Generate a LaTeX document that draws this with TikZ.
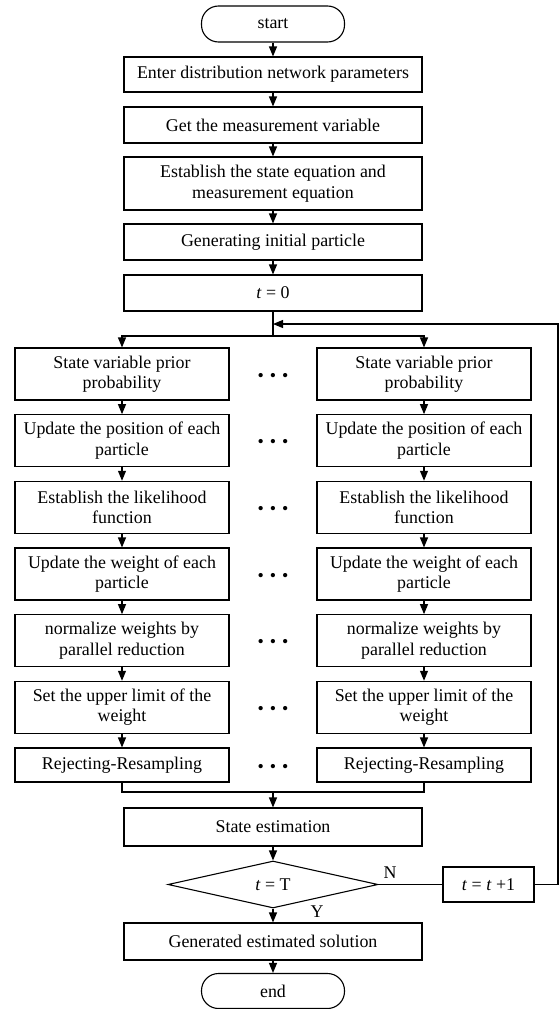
\documentclass[tikz,border=0pt]{standalone}
\usepackage{fontspec}
\setmainfont{Liberation Serif}
\usetikzlibrary{arrows.meta,shapes.geometric}

\begin{document}
\begin{tikzpicture}[x=1pt, y=-1pt, line width=1.1pt,
  >={Triangle[length=10pt, width=8pt]},
  every node/.style={font=\fontsize{17.9}{20.5}\selectfont},
  box/.style={draw, align=center, inner sep=1pt},
  wide/.style={box, minimum width=298pt, minimum height=36pt},
  par/.style={box, minimum width=214pt, minimum height=52pt},
  term/.style={box, minimum width=143pt, minimum height=36pt, rounded corners=17pt}]
\useasboundingbox (0,0) rectangle (559,1009);

\node[term] (start) at (273,24) {start};
\node[wide, minimum height=35pt] (enter) at (273,74.5) {Enter distribution network parameters};
\node[wide] (meas) at (273,125) {Get the measurement variable};
\node[wide, minimum height=53pt] (model) at (273,183.5) {Establish the state equation and\\measurement equation};
\node[wide] (init) at (273,242) {Generating initial particle};
\node[wide] (tzero) at (273,293) {\textit{t} = 0};
\coordinate (loop) at (273,324);
\coordinate (split) at (273,336);

% parallel particle columns
\foreach \c/\x in {L/122, R/424} {
  \node[par] (\c1) at (\x,374) {State variable prior\\probability};
  \node[par] (\c2) at (\x,440.7) {Update the position of each\\particle};
  \node[par] (\c3) at (\x,507.3) {Establish the likelihood\\function};
  \node[par] (\c4) at (\x,574) {Update the weight of each\\particle};
  \node[par] (\c5) at (\x,640.7) {normalize weights by\\parallel reduction};
  \node[par] (\c6) at (\x,707.3) {Set the upper limit of the\\weight};
  \node[par, minimum height=34pt] (\c7) at (\x,765) {Rejecting-Resampling};
  \foreach \i [count=\j from 2] in {1,...,6}
    \draw[->] (\c\i) -- (\c\j);
}
\foreach \y [count=\k] in {374,440.7,507.3,574,640.7,707.3,765}
  \node (dots\k) at (273,\y+3) {•\hspace{6pt}•\hspace{6pt}•};

\coordinate (merge) at (273,792);
\node[wide, minimum height=38pt] (est) at (273,827) {State estimation};
\node[draw, diamond, aspect=4.47, minimum width=210pt, minimum height=47pt, inner sep=0pt] (check) at (273,884.5) {\textit{t} = T};
\node[box, minimum width=91pt, minimum height=35pt] (next) at (488.5,884.5) {\textit{t} = \textit{t} +1};
\coordinate (rim) at (558,884.5);
\node[wide, minimum height=37pt] (result) at (273,941.5) {Generated estimated solution};
\node[term, minimum height=35pt] (stop) at (273,991) {end};
\node (yes) at (317,912) {Y};
\node (no) at (390,873) {N};

\draw[->] (start) -- (enter);
\draw[->] (enter) -- (meas);
\draw[->] (meas) -- (model);
\draw[->] (model) -- (init);
\draw[->] (init) -- (tzero);
\draw (tzero) -- (split);
\draw[->] (split) -| (L1);
\draw[->] (split) -| (R1);
\draw (L7) |- (merge) -| (R7);
\draw[->] (merge) -- (est);
\draw[->] (est) -- (check);
\draw[->] (check) -- (result);
\draw (check) -- (next);
\draw[->] (next) -- (rim) |- (loop);
\draw[->] (result) -- (stop);
\end{tikzpicture}
\end{document}
